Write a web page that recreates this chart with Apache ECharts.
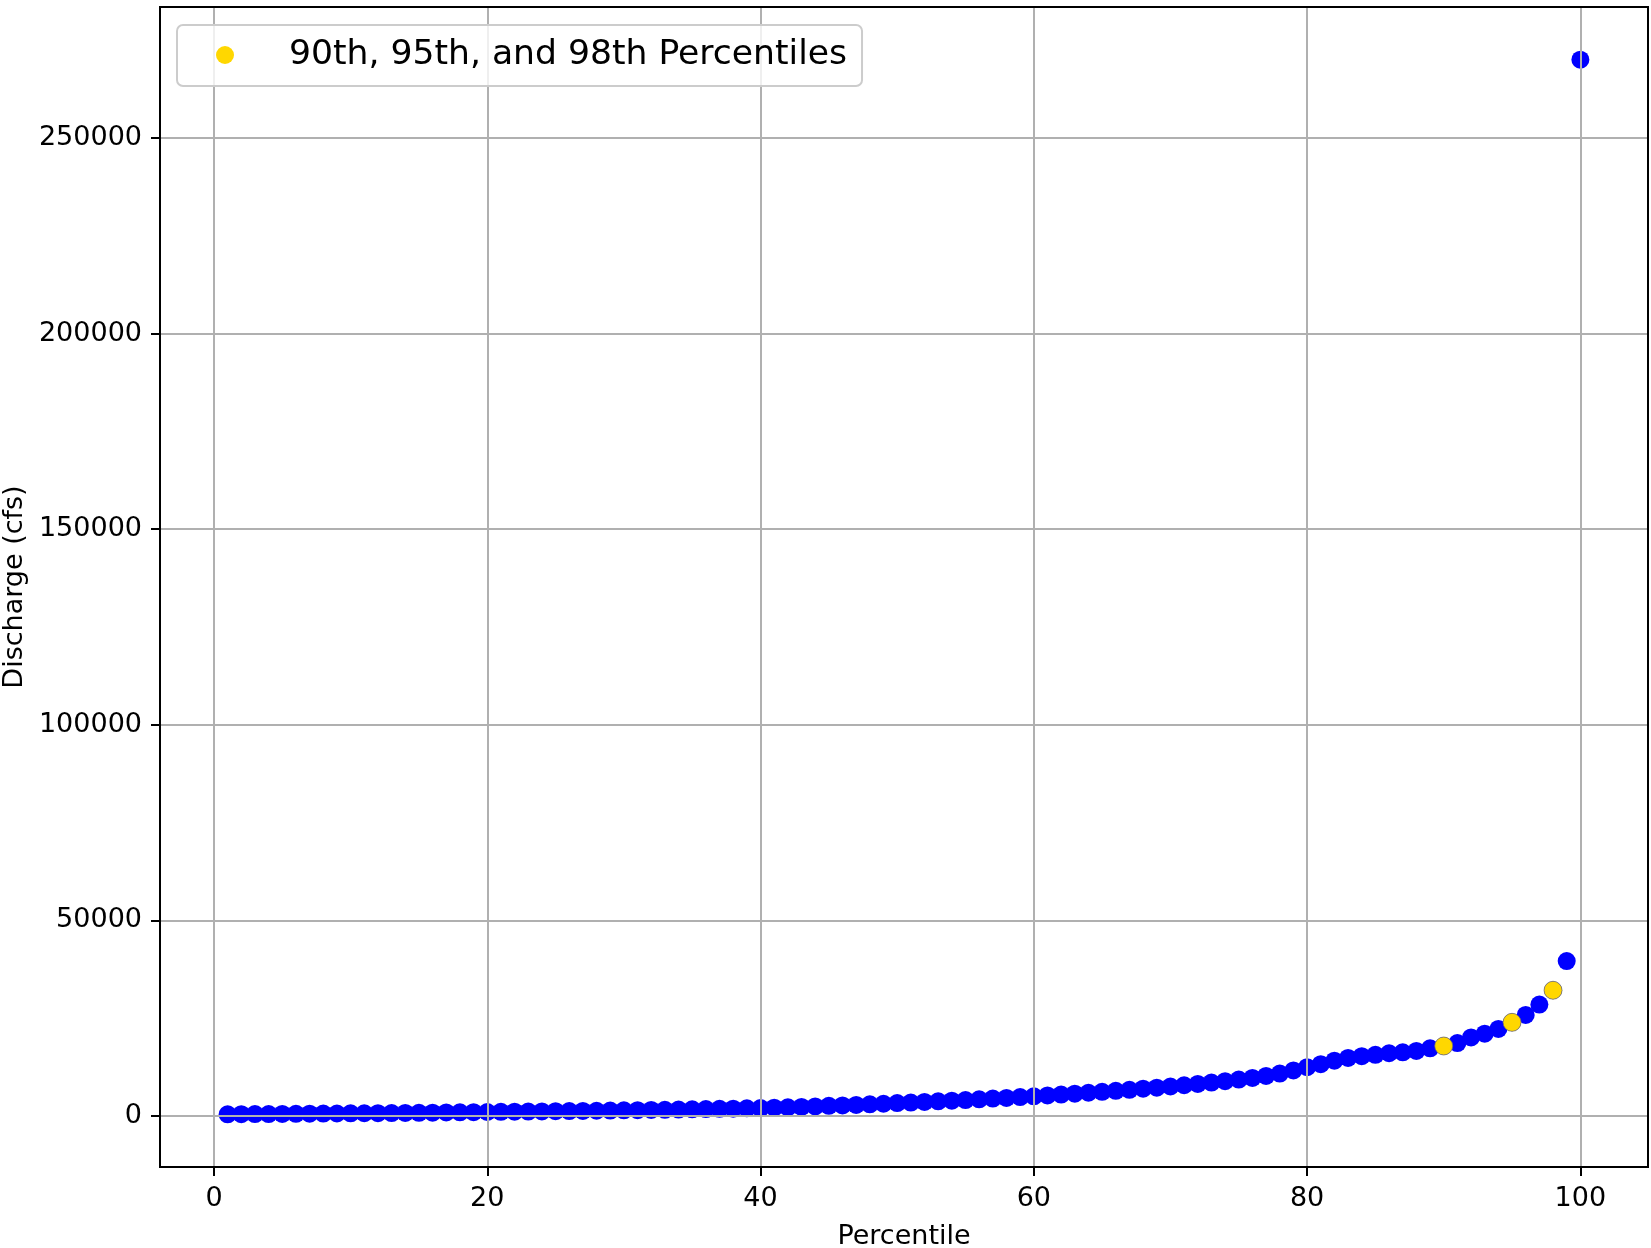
<!DOCTYPE html>
<html>
<head>
<meta charset="utf-8">
<script src="https://cdn.jsdelivr.net/npm/echarts@6/dist/echarts.min.js"></script>
<style>
  html, body { margin: 0; padding: 0; background: #fff; }
  #chart { width: 1651px; height: 1248px; }
</style>
</head>
<body>
<div id="chart"></div>
<script>
// Data
const discharge = [
  450, 470, 490, 510, 530, 560, 590, 620, 650, 680,
  710, 740, 770, 800, 830, 870, 910, 950, 990, 1030,
  1070, 1110, 1150, 1190, 1230, 1270, 1310, 1350, 1400, 1450,
  1500, 1550, 1600, 1650, 1710, 1770, 1830, 1890, 1960, 2040,
  2130, 2230, 2330, 2440, 2600, 2720, 2850, 2990, 3140, 3300,
  3450, 3600, 3760, 3920, 4090, 4270, 4450, 4640, 4840, 5050,
  5260, 5480, 5710, 5950, 6200, 6450, 6710, 6980, 7260, 7550,
  7870, 8200, 8550, 8920, 9320, 9750, 10250, 10850, 11650, 12500,
  13250, 14150, 14850, 15300, 15650, 16050, 16300, 16650, 17300, 17900,
  18650, 20100, 21050, 22250, 23950, 25850, 28500, 32150, 39600, 270000
];
const percentiles = discharge.map((_, i) => i + 1);
const highlightPercentiles = [90, 95, 98];
const highlightDischarge = [17900, 23950, 32150];
const xTicks = [0, 20, 40, 60, 80, 100];
const yTicks = [0, 50000, 100000, 150000, 200000, 250000];
const legendLabel = '90th, 95th, and 98th Percentiles';
const xLabel = 'Percentile';
const yLabel = 'Discharge (cfs)';

// matplotlib-like 5% margins
const xMinD = Math.min(...percentiles), xMaxD = Math.max(...percentiles);
const yMinD = Math.min(...discharge), yMaxD = Math.max(...discharge);
const xPad = (xMaxD - xMinD) * 0.05, yPad = (yMaxD - yMinD) * 0.05;

const font = 'DejaVu Sans';
const chart = echarts.init(document.getElementById('chart'), null, { renderer: 'canvas' });
chart.setOption({
  animation: false,
  backgroundColor: '#ffffff',
  textStyle: { fontFamily: font },
  grid: {
    left: 160, right: 3, top: 7, bottom: 81,
    containLabel: false, outerBoundsMode: 'none',
    show: true, borderColor: '#000', borderWidth: 2, backgroundColor: 'transparent', z: 5
  },
  legend: {
    data: [{ name: legendLabel, icon: 'circle', itemStyle: { color: '#ffd700', borderWidth: 0 } }],
    left: 177, top: 25,
    itemWidth: 18, itemHeight: 18,
    padding: [10, 15, 11, 39],
    backgroundColor: 'rgba(255,255,255,0.8)',
    borderColor: '#cccccc', borderWidth: 2, borderRadius: 6,
    textStyle: { fontFamily: font, fontSize: 34.6, color: '#000', padding: [0, 0, 0, 50], lineHeight: 40 },
    z: 10
  },
  xAxis: {
    type: 'value',
    min: xMinD - xPad, max: xMaxD + xPad,
    z: 3,
    name: xLabel, nameLocation: 'middle', nameGap: 56,
    nameTextStyle: { fontFamily: font, fontSize: 27, color: '#000' },
    axisLine: { show: true, onZero: false, lineStyle: { color: '#000', width: 2 } },
    axisTick: { show: true, length: 9, lineStyle: { color: '#000', width: 2 }, customValues: xTicks },
    axisLabel: { fontFamily: font, fontSize: 27, color: '#000', margin: 18, customValues: xTicks,
      formatter: v => String(v) },
    splitLine: { show: true, lineStyle: { color: '#b0b0b0', width: 2 } }
  },
  yAxis: {
    type: 'value',
    min: yMinD - yPad, max: yMaxD + yPad,
    z: 3,
    name: yLabel, nameLocation: 'middle', nameGap: 128,
    nameTextStyle: { fontFamily: font, fontSize: 27, color: '#000' },
    axisLine: { show: true, onZero: false, lineStyle: { color: '#000', width: 2 } },
    axisTick: { show: true, length: 9, lineStyle: { color: '#000', width: 2 }, customValues: yTicks },
    axisLabel: { fontFamily: font, fontSize: 27, color: '#000', margin: 18, customValues: yTicks,
      formatter: v => String(v) },
    splitLine: { show: true, lineStyle: { color: '#b0b0b0', width: 2 } }
  },
  series: [
    {
      name: 'Discharge',
      type: 'scatter',
      symbol: 'circle',
      symbolSize: 18,
      itemStyle: { color: '#0000ff', opacity: 1 },
      data: percentiles.map((p, i) => [p, discharge[i]]),
      z: 2
    },
    {
      name: legendLabel,
      type: 'scatter',
      symbol: 'circle',
      symbolSize: 18,
      itemStyle: { color: '#ffd700', opacity: 1, borderColor: 'rgba(110,110,110,0.7)', borderWidth: 1 },
      data: highlightPercentiles.map((p, i) => [p, highlightDischarge[i]]),
      z: 2
    }
  ]
});
</script>
</body>
</html>
